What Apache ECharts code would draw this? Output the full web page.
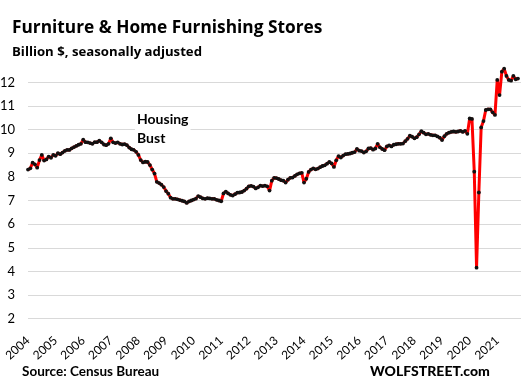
<!DOCTYPE html>
<html>
<head>
<meta charset="utf-8">
<script src="https://cdn.jsdelivr.net/npm/echarts@6/dist/echarts.min.js"></script>
<style>
html,body{margin:0;padding:0;background:#fff;}
#chart{width:522px;height:386px;}
</style>
</head>
<body>
<div id="chart"></div>
<script>
// Monthly sales, billion $, seasonally adjusted (Jan..Dec of each year)
const y2004 = [8.31, 8.36, 8.60, 8.53, 8.39, 8.71, 8.93, 8.69, 8.74, 8.86, 8.81, 8.93];
const y2005 = [8.89, 9.00, 8.96, 9.03, 9.10, 9.14, 9.14, 9.21, 9.26, 9.31, 9.36, 9.40];
const y2006 = [9.57, 9.47, 9.46, 9.43, 9.40, 9.47, 9.47, 9.53, 9.46, 9.37, 9.34, 9.40];
const y2007 = [9.63, 9.46, 9.43, 9.46, 9.40, 9.37, 9.39, 9.34, 9.24, 9.17, 9.14, 9.06];
const y2008 = [8.93, 8.71, 8.61, 8.64, 8.63, 8.50, 8.31, 8.14, 7.79, 7.74, 7.67, 7.57];
const y2009 = [7.40, 7.29, 7.12, 7.07, 7.07, 7.05, 7.02, 6.99, 6.96, 6.90, 6.96, 7.00];
const y2010 = [7.04, 7.08, 7.19, 7.14, 7.09, 7.07, 7.10, 7.09, 7.07, 7.07, 7.03, 7.00];
const y2011 = [6.97, 7.30, 7.38, 7.30, 7.24, 7.21, 7.27, 7.33, 7.34, 7.36, 7.42, 7.50];
const y2012 = [7.60, 7.62, 7.59, 7.51, 7.56, 7.63, 7.61, 7.63, 7.60, 7.42, 7.84, 7.96];
const y2013 = [7.95, 7.91, 7.86, 7.84, 7.76, 7.88, 7.96, 7.97, 8.04, 8.11, 8.15, 8.17];
const y2014 = [7.76, 7.92, 8.21, 8.31, 8.36, 8.32, 8.35, 8.41, 8.46, 8.49, 8.56, 8.63];
const y2015 = [8.57, 8.42, 8.70, 8.88, 8.82, 8.90, 8.96, 8.97, 8.99, 9.02, 9.05, 9.18];
const y2016 = [9.11, 9.09, 9.03, 9.08, 9.20, 9.22, 9.15, 9.20, 9.40, 9.25, 9.18, 9.13];
const y2017 = [9.29, 9.33, 9.29, 9.36, 9.38, 9.40, 9.40, 9.41, 9.51, 9.61, 9.74, 9.70];
const y2018 = [9.63, 9.68, 9.80, 9.93, 9.87, 9.80, 9.82, 9.78, 9.76, 9.76, 9.71, 9.66];
const y2019 = [9.56, 9.72, 9.82, 9.87, 9.90, 9.92, 9.90, 9.92, 9.95, 9.90, 9.95, 9.82];
const y2020 = [10.47, 10.45, 8.22, 4.16, 7.34, 10.09, 10.36, 10.83, 10.86, 10.86, 10.73, 10.62];
const y2021 = [12.10, 11.46, 12.45, 12.58, 12.27, 12.10, 12.07, 12.27, 12.13, 12.16];

const years = [2004, 2005, 2006, 2007, 2008, 2009, 2010, 2011, 2012, 2013, 2014, 2015, 2016, 2017, 2018, 2019, 2020, 2021];
const yearValues = [y2004, y2005, y2006, y2007, y2008, y2009, y2010, y2011, y2012, y2013, y2014, y2015, y2016, y2017, y2018, y2019, y2020, y2021];
const yTicks = [2, 3, 4, 5, 6, 7, 8, 9, 10, 11, 12];

const seriesData = [];
years.forEach((yr, i) => {
  yearValues[i].forEach((v, m) => seriesData.push([yr + m / 12, v]));
});

const FONT = 'Lato, "Noto Sans", sans-serif';
const TFONT = '"Open Sans", Lato, sans-serif';
const chart = echarts.init(document.getElementById('chart'), null, {renderer: 'canvas'});
chart.setOption({
  backgroundColor: '#ffffff',
  animation: false,
  title: [
    {text: 'Furniture & Home Furnishing Stores', left: 7, top: 15,
     textStyle: {fontFamily: TFONT, fontSize: 17.3, fontWeight: 'bold', color: '#000'}},
    {text: 'Billion $, seasonally adjusted', left: 7, top: 41,
     textStyle: {fontFamily: TFONT, fontSize: 13.2, fontWeight: 'bold', color: '#000'}},
    {text: 'Housing\nBust', left: 135, top: 109, backgroundColor: '#fff', padding: [1, 2, 1, 2],
     textStyle: {fontFamily: FONT, fontSize: 14, fontWeight: 'bold', color: '#000', lineHeight: 19}},
    {text: 'Source: Census Bureau', left: 17, top: 360,
     textStyle: {fontFamily: FONT, fontSize: 13.5, fontWeight: 'bold', color: '#000'}},
    {text: 'WOLFSTREET.com', left: 365, top: 359,
     textStyle: {fontFamily: FONT, fontSize: 14, fontWeight: 900, color: '#000'}}
  ],
  grid: {left: 28, right: 1, top: 58.7, bottom: 67.3, containLabel: false, outerBoundsMode: 'none'},
  xAxis: {
    type: 'value', min: years[0], max: 2021.86, interval: 1,
    axisLine: {show: false}, axisTick: {show: false}, splitLine: {show: false},
    axisLabel: {
      rotate: 42, margin: 20, fontFamily: FONT, fontSize: 12, color: '#000',
      showMaxLabel: false,
      formatter: v => (years.indexOf(v) >= 0 ? String(v) : '')
    }
  },
  yAxis: {
    type: 'value', min: yTicks[0], max: 13, interval: 1,
    axisLine: {show: false}, axisTick: {show: false},
    splitLine: {show: true, showMaxLine: false, lineStyle: {color: '#d9d9d9', width: 1}},
    axisLabel: {
      margin: 13, fontFamily: FONT, fontSize: 13, color: '#000', showMaxLabel: false,
      formatter: v => (yTicks.indexOf(v) >= 0 ? String(v) : '')
    }
  },
  series: [{
    type: 'line', data: seriesData, z: 3,
    lineStyle: {color: '#ff0000', width: 3},
    symbol: 'circle', symbolSize: 3.8, showSymbol: true,
    itemStyle: {color: '#111', borderWidth: 0}
  }]
});
</script>
</body>
</html>
